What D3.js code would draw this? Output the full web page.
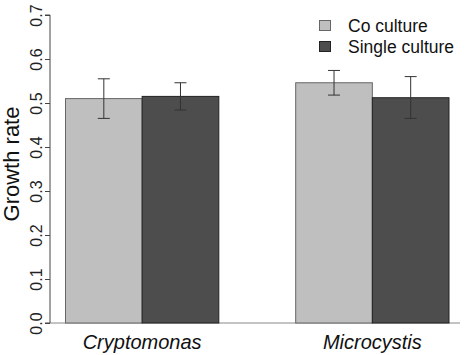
<!DOCTYPE html>
<html>
<head>
<meta charset="utf-8">
<script src="https://cdn.jsdelivr.net/npm/d3@7"></script>
<style>
  body{margin:0;background:#fff;}
  text{font-family:"Liberation Sans",Arial,sans-serif;}
</style>
</head>
<body>
<svg width="467" height="355"></svg>
<script>
const species=["Cryptomonas","Microcystis"];
const groups=["Co culture","Single culture"];
const means=[[0.510,0.515],[0.546,0.512]];
const errLow=[[0.465,0.484],[0.518,0.465]];
const errHigh=[[0.555,0.546],[0.574,0.560]];
const yTicks=[0,0.1,0.2,0.3,0.4,0.5,0.6,0.7];
const fills=["#bfbfbf","#4d4d4d"];

const margin={top:15,left:50,bottom:32,right:7};
const svg=d3.select("svg");
const height=355-margin.top-margin.bottom;

const yScale=d3.scaleLinear().domain([0,0.7]).range([height+margin.top,margin.top]);
const xOuter=d3.scaleBand().domain(species).range([65.5,449]).paddingInner(0.334);
const xInner=d3.scaleBand().domain(groups).range([0,xOuter.bandwidth()]);

// baseline
svg.append("line")
  .attr("x1",margin.left).attr("x2",460)
  .attr("y1",yScale(0)).attr("y2",yScale(0))
  .attr("stroke","#888").attr("stroke-width",1);

const g=svg.selectAll(".sp")
  .data(species)
  .enter()
  .append("g")
  .attr("transform",d=>`translate(${xOuter(d)},0)`);

g.selectAll("rect")
  .data((d,i)=>groups.map((gr,j)=>({gr,j,v:means[i][j]})))
  .enter()
  .append("rect")
  .attr("x",d=>xInner(d.gr))
  .attr("width",xInner.bandwidth())
  .attr("y",d=>yScale(d.v))
  .attr("height",d=>yScale(0)-yScale(d.v))
  .attr("fill",d=>fills[d.j])
  .attr("stroke",d=>d.j==0?"#666":"#222")
  .attr("stroke-width",1);

const eb=g.selectAll(".err")
  .data((d,i)=>groups.map((gr,j)=>({gr,j,lo:errLow[i][j],hi:errHigh[i][j]})))
  .enter()
  .append("g")
  .attr("transform",d=>`translate(${xInner(d.gr)+xInner.bandwidth()/2},0)`);
eb.append("line").attr("y1",d=>yScale(d.lo)).attr("y2",d=>yScale(d.hi)).attr("stroke","#333");
eb.append("line").attr("x1",-6).attr("x2",6).attr("y1",d=>yScale(d.lo)).attr("y2",d=>yScale(d.lo)).attr("stroke","#333");
eb.append("line").attr("x1",-6).attr("x2",6).attr("y1",d=>yScale(d.hi)).attr("y2",d=>yScale(d.hi)).attr("stroke","#333");

// y axis
const yAxis=d3.axisLeft(yScale).tickValues(yTicks).tickFormat(d3.format(".1f")).tickSize(5);
const ya=svg.append("g")
  .attr("transform",`translate(${margin.left},0)`)
  .call(yAxis);
ya.select(".domain").attr("stroke","#444").attr("d",`M-5,${yScale(0.7)}H0V${yScale(0)}H-5`);
ya.selectAll(".tick line").attr("stroke","#444");
ya.selectAll(".tick text")
  .attr("transform","translate(-14,0) rotate(-90)")
  .attr("x",0).attr("dy","0.35em")
  .style("text-anchor","middle")
  .style("font-size","16px")
  .attr("fill","#222");

svg.append("text")
  .text("Growth rate")
  .attr("transform",`translate(19,164) rotate(-90)`)
  .style("text-anchor","middle")
  .style("font-size","22px")
  .attr("fill","#111");

// x labels
svg.selectAll(".xl")
  .data(species)
  .enter()
  .append("text")
  .text(d=>d)
  .attr("x",d=>xOuter(d)+xOuter.bandwidth()/2)
  .attr("y",349)
  .style("text-anchor","middle")
  .style("font-style","italic")
  .style("font-size","20px")
  .attr("fill","#111");

// legend
const lg=svg.selectAll(".lg")
  .data(groups)
  .enter()
  .append("g")
  .attr("transform",(d,i)=>`translate(319.5,${20.5+i*21})`);
lg.append("rect").attr("width",11).attr("height",10)
  .attr("fill",(d,i)=>fills[i]).attr("stroke",(d,i)=>i==0?"#666":"#222");
lg.append("text").text(d=>d).attr("x",28.5).attr("y",11)
  .style("font-size","17.5px").attr("fill","#111");
</script>
</body>
</html>
